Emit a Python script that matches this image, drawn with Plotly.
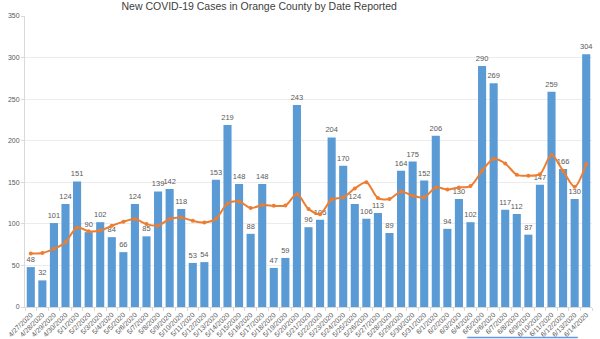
import plotly.graph_objects as go
import pandas as pd

dates = [d.strftime("%-m/%-d/%Y") for d in pd.date_range("2020-04-27", "2020-06-14")]

new_cases = [48, 32, 101, 124, 151, 90, 102, 84, 66, 124, 85, 139, 142, 118, 53, 54,
             153, 219, 148, 88, 148, 47, 59, 243, 96, 105, 204, 170, 124, 106, 113, 89,
             164, 175, 152, 206, 94, 130, 102, 290, 269, 117, 112, 87, 147, 259, 166,
             130, 304]

avg_7day = [64.4, 65.0, 70.0, 78.0, 95.7, 91.0, 92.0, 97.7, 102.5, 105.8, 99.7, 98.0,
            105.8, 107.7, 103.7, 101.7, 106.0, 124.5, 127.0, 119.0, 122.6, 121.8, 122.0,
            135.8, 118.0, 111.7, 129.4, 131.8, 142.6, 150.0, 131.0, 129.8, 139.0, 133.8,
            131.8, 143.8, 141.4, 143.8, 145.4, 163.8, 178.2, 172.6, 159.0, 157.8, 159.8,
            182.7, 163.8, 144.6, 171.9]

y_ticks = [0, 50, 100, 150, 200, 250, 300, 350]

FONT = "Liberation Sans, Arial, sans-serif"
GREY = "#595959"

fig = go.Figure()
fig.add_trace(go.Bar(
    x=dates, y=new_cases,
    marker=dict(color="#5B9BD5", line=dict(width=0)),
    text=new_cases, textposition="outside", constraintext="none",
    textfont=dict(size=7.5, color=GREY, family=FONT),
    cliponaxis=False, showlegend=False,
))
fig.add_trace(go.Scatter(
    x=dates, y=avg_7day, mode="lines+markers",
    line=dict(color="#ED7D31", width=2, shape="spline", smoothing=0.8),
    marker=dict(color="#ED7D31", size=4),
    showlegend=False,
))

fig.update_layout(
    width=600, height=339,
    margin=dict(l=25, r=8, t=16, b=32),
    paper_bgcolor="white", plot_bgcolor="white",
    bargap=0.3,
    font=dict(family=FONT, color=GREY),
    title=dict(text="New COVID-19 Cases in Orange County by Date Reported",
               x=0.432, xanchor="center", y=0.982, yanchor="middle",
               font=dict(size=10.5, color="#404040", family=FONT)),
    xaxis=dict(type="category", range=[-0.5, len(dates) - 0.5],
               tickangle=-45, tickfont=dict(size=7, color=GREY),
               showline=True, linecolor="#d9d9d9", linewidth=1,
               ticks="outside", ticklen=3, tickcolor="#d9d9d9", tickson="boundaries",
               showgrid=False, automargin=False),
    yaxis=dict(range=[0, 350], tickvals=y_ticks, tickfont=dict(size=7, color=GREY),
               showgrid=True, gridcolor="#ececec", gridwidth=1,
               showline=True, linecolor="#d9d9d9", linewidth=1,
               ticks="outside", ticklen=3, tickcolor="#d9d9d9",
               zeroline=False, automargin=False),
    shapes=[dict(type="line", xref="paper", yref="paper",
                 x0=0.78, x1=0.975, y0=-0.105, y1=-0.105,
                 line=dict(color="#6699dd", width=1.5))],
)

fig.write_html("out.html")
